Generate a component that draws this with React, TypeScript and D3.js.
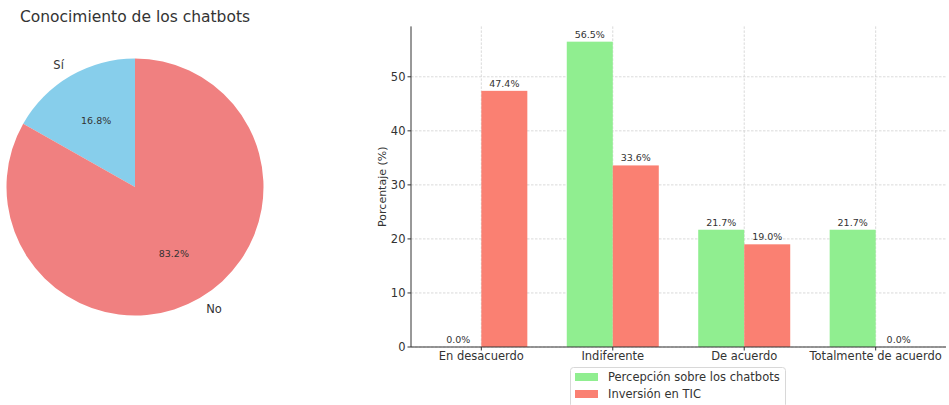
import React from "react";
import * as d3 from "d3";

const pieLabels = ["Sí", "No"];
const pieValues = [16.8, 83.2];
const pieColors = ["#87CEEB", "#F08080"];

const categories = ["En desacuerdo", "Indiferente", "De acuerdo", "Totalmente de acuerdo"];
const seriesNames = ["Percepción sobre los chatbots", "Inversión en TIC"];
const percepcion = [0.0, 56.5, 21.7, 21.7];
const inversion = [47.4, 33.6, 19.0, 0.0];
const seriesColors = ["#90EE90", "#FA8072"];
const yTicks = [0, 10, 20, 30, 40, 50];

const W = 949;
const H = 405;
const FONT = "DejaVu Sans, sans-serif";
const TXT = "#333";

export default function App() {
  // Pie
  const cx = 135, cy = 187, r = 128.5;
  // matplotlib: startangle 90, counterclockwise, Sí first
  const total = d3.sum(pieValues);
  const angScale = d3.scaleLinear().domain([0, total]).range([0, 2 * Math.PI]);
  let acc = 0;
  const slices = pieValues.map((v, i) => {
    const a0 = angScale(acc);
    const a1 = angScale(acc + v);
    acc += v;
    // counterclockwise from top: d3 angle (clockwise from 12 o'clock) = -a
    return { i, start: -a1, end: -a0, mid: -(a0 + a1) / 2 };
  });
  const arc = d3.arc<any>().innerRadius(0).outerRadius(r);

  // Bars
  const left = 411, right = 946, top = 26.4, bottom = 347;
  const bw = 0.35;
  const x = d3.scaleLinear().domain([-0.535, categories.length - 1 + 0.535]).range([left, right]);
  const y = d3.scaleLinear().domain([0, 56.5 * 1.05]).range([bottom, top]);
  const unit = x(1) - x(0);
  const series = [percepcion, inversion];

  return (
    <svg width={W} height={H} style={{ position: "absolute", left: 0, top: 0, background: "#fff" }} fontFamily={FONT}>
      <text x={cx} y={22} textAnchor="middle" fontSize={15.5} fill={TXT}>Conocimiento de los chatbots</text>
      <g transform={`translate(${cx},${cy})`}>
        {slices.map((s) => (
          <path key={s.i} d={arc({ startAngle: s.start, endAngle: s.end }) as string} fill={pieColors[s.i]} />
        ))}
        {slices.map((s) => {
          const lx = Math.sin(s.mid) * r * 1.1;
          const ly = -Math.cos(s.mid) * r * 1.1;
          const px = Math.sin(s.mid) * r * 0.6;
          const py = -Math.cos(s.mid) * r * 0.6;
          return (
            <g key={"l" + s.i}>
              <text x={lx} y={ly} dy="0.35em" textAnchor={lx < 0 ? "end" : "start"} fontSize={11.5} fill={TXT}>{pieLabels[s.i]}</text>
              <text x={px} y={py} dy="0.35em" textAnchor="middle" fontSize={9.5} fill={TXT}>{pieValues[s.i].toFixed(1)}%</text>
            </g>
          );
        })}
      </g>

      {/* grid */}
      <g stroke="#d0d0d0" strokeWidth={0.8} strokeDasharray="2.5,1.5">
        {yTicks.map((t) => (
          <line key={"gy" + t} x1={left} x2={right} y1={y(t)} y2={y(t)} />
        ))}
        {categories.map((c, i) => (
          <line key={"gx" + i} x1={x(i)} x2={x(i)} y1={top} y2={bottom} />
        ))}
      </g>

      {/* bars */}
      {series.map((vals, si) =>
        vals.map((v, i) => {
          const x0 = x(i + (si === 0 ? -bw : 0));
          return (
            <rect key={`b${si}-${i}`} x={x0} y={y(v)} width={unit * bw} height={y(0) - y(v)} fill={seriesColors[si]} />
          );
        })
      )}
      {series.map((vals, si) =>
        vals.map((v, i) => (
          <text key={`t${si}-${i}`} x={x(i + (si === 0 ? -bw / 2 : bw / 2))} y={y(v) - 4} textAnchor="middle" fontSize={9.5} fill={TXT}>
            {v.toFixed(1)}%
          </text>
        ))
      )}

      {/* axes */}
      <line x1={left} x2={left} y1={top} y2={bottom} stroke="#333" strokeWidth={1} />
      <line x1={left} x2={right} y1={bottom} y2={bottom} stroke="#333" strokeWidth={1} />
      {yTicks.map((t) => (
        <g key={"yt" + t}>
          <line x1={left - 3.5} x2={left} y1={y(t)} y2={y(t)} stroke="#333" />
          <text x={left - 5.5} y={y(t)} dy="0.35em" textAnchor="end" fontSize={11.5} fill={TXT}>{t}</text>
        </g>
      ))}
      {categories.map((c, i) => (
        <g key={"xt" + i}>
          <line x1={x(i)} x2={x(i)} y1={bottom} y2={bottom + 3.5} stroke="#333" />
          <text x={x(i)} y={bottom + 13} textAnchor="middle" fontSize={11.5} fill={TXT}>{c}</text>
        </g>
      ))}
      <text transform={`translate(386,${(top + bottom) / 2}) rotate(-90)`} textAnchor="middle" fontSize={11} fill={TXT}>Porcentaje (%)</text>

      {/* legend */}
      <g>
        <rect x={570.5} y={367.5} width={215} height={40} rx={3} fill="#fff" fillOpacity={0.8} stroke="#d8d8d8" />
        {seriesNames.map((n, i) => (
          <g key={"lg" + i}>
            <rect x={575} y={373 + i * 17} width={23} height={8} fill={seriesColors[i]} />
            <text x={608} y={377 + i * 17} dy="0.35em" fontSize={11.5} fill={TXT}>{n}</text>
          </g>
        ))}
      </g>
    </svg>
  );
}
